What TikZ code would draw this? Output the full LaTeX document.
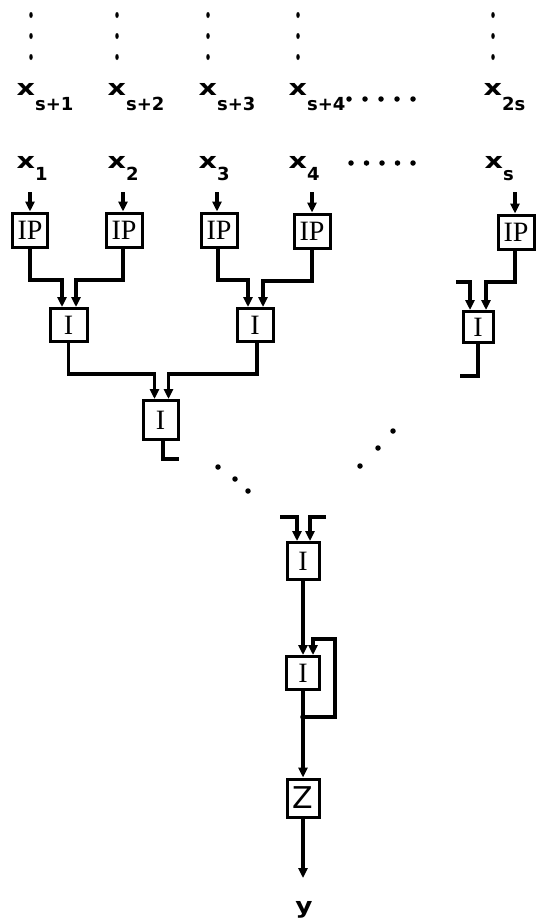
\documentclass[tikz,border=0pt]{standalone}
\usepackage{fontspec}
\usepackage{graphicx}
\setmainfont{DejaVu Sans}
\newfontfamily\boxfont{Liberation Serif}
\usetikzlibrary{arrows.meta,shapes.geometric}
\newcommand{\mylab}[2]{{\fontsize{22}{22}\selectfont\bfseries\scalebox{1.3}[1]{x}}\raisebox{-#2}{\fontsize{18}{18}\selectfont\bfseries #1}}
\begin{document}
\begin{tikzpicture}[x=1pt,y=-1pt,line width=3.2pt,
  blk/.style={draw,line width=3pt,inner sep=0pt,font=\boxfont\fontsize{28}{28}\selectfont},
  arr/.style={line width=3.2pt,-{Triangle[length=10pt,width=9pt]}},
  lab/.style={anchor=base west,inner sep=0pt},
  dotm/.style={fill,circle,inner sep=0pt,minimum size=5.5pt},
  vdot/.style={fill,ellipse,inner sep=0pt,minimum width=3.5pt,minimum height=6pt}]
\useasboundingbox (0,0) rectangle (547,922);
% vertical dotted columns
\foreach \c in {31,117,208,298,493}{
  \node[vdot] at (\c,15) {};
  \node[vdot] at (\c,36) {};
  \node[vdot] at (\c,57) {};
}
% labels row 1
\node[lab] (xs1) at (15,95) {\mylab{s+1}{15pt}};
\node[lab] (xs2) at (106,95) {\mylab{s+2}{15pt}};
\node[lab] (xs3) at (197,95) {\mylab{s+3}{15pt}};
\node[lab] (xs4) at (287,95) {\mylab{s+4}{15pt}};
\node[lab] (x2s) at (482,95) {\mylab{2s}{15pt}};
\foreach \i in {0,...,4}{ \node[dotm] at ({349+16*\i},99) {}; }
% labels row 2
\node[lab] (x1) at (15,168) {\mylab{1}{12pt}};
\node[lab] (x2) at (106,168) {\mylab{2}{12pt}};
\node[lab] (x3) at (197,168) {\mylab{3}{12pt}};
\node[lab] (x4) at (287,168) {\mylab{4}{12pt}};
\node[lab] (xs) at (483,168) {\mylab{s}{12pt}};
\foreach \i in {0,...,4}{ \node[dotm] at ({351+15.5*\i},163) {}; }
% IP boxes
\node[blk,minimum width=35pt,minimum height=34pt] (ip1) at (30,230) {IP};
\node[blk,minimum width=36pt,minimum height=34pt] (ip2) at (124,230) {IP};
\node[blk,minimum width=36pt,minimum height=34pt] (ip3) at (219,230) {IP};
\node[blk,minimum width=36pt,minimum height=34pt] (ip4) at (312,231) {IP};
\node[blk,minimum width=36pt,minimum height=34pt] (ip5) at (516,232) {IP};
% I boxes
\node[blk,minimum width=37pt,minimum height=33pt] (i1) at (68.5,325) {I};
\node[blk,minimum width=36pt,minimum height=33pt] (i2) at (255,325) {I};
\node[blk,minimum width=30pt,minimum height=31pt] (i3r) at (478,327) {I};
\node[blk,minimum width=35pt,minimum height=39pt] (i3) at (160.5,420) {I};
\node[blk,minimum width=32pt,minimum height=37pt] (i4) at (303,561) {I};
\node[blk,minimum width=33pt,minimum height=33pt] (i5) at (303,673) {I};
\node[blk,minimum width=32pt,minimum height=38pt,font=\fontsize{30}{30}\selectfont] (z) at (303,798) {Z};
\node[inner sep=0pt,anchor=base] (y) at (304,913) {{\fontsize{22}{22}\selectfont\bfseries\scalebox{1.2}[1]{y}}};
% inputs into IP boxes
\coordinate (a1) at (30,192);
\coordinate (a2) at (123,192);
\coordinate (a3) at (217,192);
\coordinate (a4) at (312,192);
\coordinate (a5) at (515,192);
\draw[arr] (a1) -- (a1 |- ip1.north);
\draw[arr] (a2) -- (a2 |- ip2.north);
\draw[arr] (a3) -- (a3 |- ip3.north);
\draw[arr] (a4) -- (a4 |- ip4.north);
\draw[arr] (a5) -- (a5 |- ip5.north);
% IP -> I
\draw[arr] (ip1.south) -- (30,280) -| ([xshift=-6.5pt]i1.north);
\draw[arr] (123,247) -- (123,280) -| ([xshift=7.5pt]i1.north);
\draw[arr] (218,247) -- (218,280) -| ([xshift=-7pt]i2.north);
\draw[arr] (ip4.south) -- (312,281) -| ([xshift=8pt]i2.north);
\draw[arr] (515,249) -- (515,282) -| ([xshift=8pt]i3r.north);
\coordinate (s1) at (456,282);
\draw[arr] (s1) -| ([xshift=-8pt]i3r.north);
\coordinate (s2) at (460,376);
\draw (i3r.south) -- (478,376) -- (s2);
% I -> I
\draw[arr] (i1.south) -- (68.5,374) -| ([xshift=-6pt]i3.north);
\draw[arr] (257,341.5) -- (257,374) -| ([xshift=8pt]i3.north);
\coordinate (s3) at (179,459);
\draw (163,439.5) -- (163,459) -- (s3);
% diagonal dots
\node[dotm] at (218,467) {};
\node[dotm] at (235,479) {};
\node[dotm] at (248,491) {};
\node[dotm] at (360,466) {};
\node[dotm] at (378,448) {};
\node[dotm] at (393,431) {};
% lower chain
\coordinate (s4) at (280,517);
\coordinate (s5) at (326,517);
\draw[arr] (s4) -| ([xshift=-6pt]i4.north);
\draw[arr] (s5) -| ([xshift=7pt]i4.north);
\draw[arr] (i4.south) -- (i5.north);
\coordinate (j) at (303,717);
\draw (i5.south) -- (j);
\draw[arr] (j) -- (z.north);
\draw[arr] (j) -- (335,717) -- (335,639) -| ([xshift=10pt]i5.north);
\fill (j) circle (2.8pt);
\coordinate (yo) at (303,878);
\draw[arr] (z.south) -- (yo);
\end{tikzpicture}
\end{document}
